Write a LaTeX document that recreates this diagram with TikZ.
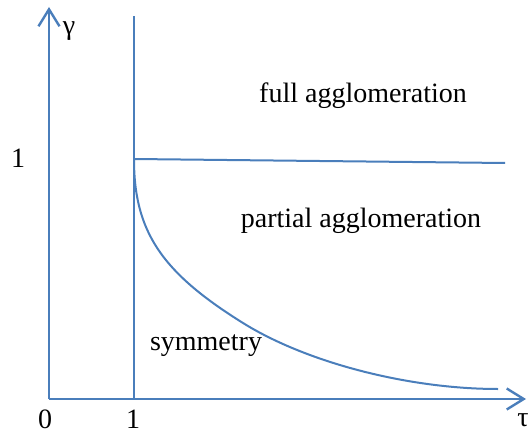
\documentclass[tikz,border=0pt]{standalone}
\usepackage{fontspec}
\setmainfont{Liberation Serif}
\usetikzlibrary{arrows.meta}
\definecolor{lineblue}{RGB}{74,126,187}
\begin{document}
\begin{tikzpicture}[x=1pt,y=-1pt,
  axis/.style={draw=lineblue,line width=2.6pt},
  boundary/.style={draw=lineblue,line width=2pt},
  axtip/.style={-{Straight Barb[length=17pt,width=21pt,line width=2.4pt]}},
  lbl/.style={font=\fontsize{28}{33}\selectfont,inner sep=0pt,anchor=base}]
\useasboundingbox (0,0) rectangle (529,435);
% axes
\coordinate (O) at (49,399);
\coordinate (ytop) at (49,7);
\coordinate (xend) at (526,399);
\coordinate (vb) at (134,399);
\coordinate (vt) at (134,16);
\coordinate (P) at (134,159);
\coordinate (M) at (243,323);
\coordinate (hend) at (505,163);
\coordinate (cend) at (498,389);
\draw[axis,axtip] (O) -- (ytop);
\draw[axis,axtip] (O) -- (xend);
\draw[axis] (vb) -- (vt);
\draw[boundary] (P) -- (hend);
\draw[boundary] (P) .. controls (134,231) and (161,272) .. (M)
  .. controls (306.6,362.6) and (408.6,389) .. (cend);
% labels
\node[lbl] (g) at (69,35) {γ};
\node[lbl] (one) at (18,168) {1};
\node[lbl] (zero) at (45,428) {0};
\node[lbl] (onex) at (133,428) {1};
\node[lbl] (tau) at (523,426) {τ};
\node[lbl] (full) at (363,103) {full agglomeration};
\node[lbl] (part) at (361,228) {partial agglomeration};
\node[lbl] (sym) at (206,350) {symmetry};
\end{tikzpicture}
\end{document}
